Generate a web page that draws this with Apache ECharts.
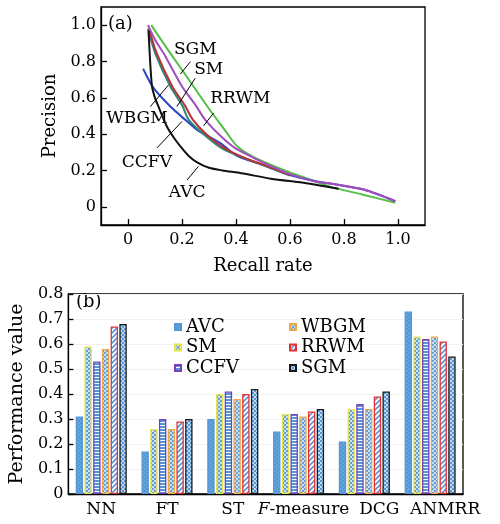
<!DOCTYPE html>
<html><head><meta charset="utf-8">
<script src="https://cdn.jsdelivr.net/npm/echarts@6/dist/echarts.min.js"></script>
<style>html,body{margin:0;padding:0;background:#fff}#c{width:500px;height:524px}</style>
</head><body><div id="c"></div>
<script>
const FONT = 'DejaVu Serif';

// ---------- Panel (a): precision-recall curves ----------
const sgmCurve = [[0.086,1.0],[0.15,0.86],[0.23,0.69],[0.3,0.54],[0.36,0.42],[0.40,0.34],[0.44,0.295],[0.5,0.25],[0.59,0.195],[0.675,0.15],[0.75,0.11],[0.87,0.067],[0.99,0.022]];
const rrwmCurve = [[0.074,1.0],[0.1,0.92],[0.132,0.845],[0.2,0.662],[0.25,0.56],[0.286,0.479],[0.35,0.38],[0.40,0.32],[0.465,0.27],[0.55,0.21],[0.6,0.18],[0.69,0.14],[0.75,0.128],[0.873,0.095],[0.99,0.031]];
const wbgmCurve = [[0.074,0.98],[0.101,0.845],[0.157,0.662],[0.2,0.56],[0.225,0.479],[0.28,0.40],[0.35,0.32],[0.428,0.27],[0.5,0.23],[0.6,0.172]];
const smCurve = [[0.078,0.98],[0.105,0.85],[0.165,0.66],[0.21,0.56],[0.24,0.48],[0.29,0.40],[0.36,0.32],[0.43,0.27],[0.5,0.232],[0.6,0.175]];
const ccfvCurve = [[0.056,0.76],[0.095,0.653],[0.157,0.552],[0.212,0.479],[0.256,0.424],[0.342,0.351],[0.404,0.28],[0.5,0.23],[0.6,0.175],[0.7,0.14],[0.75,0.128],[0.873,0.095],[0.99,0.031]];
const avcCurve = [[0.076,0.97],[0.082,0.80],[0.089,0.662],[0.1,0.6],[0.113,0.552],[0.144,0.442],[0.17,0.38],[0.194,0.333],[0.225,0.28],[0.256,0.245],[0.3,0.215],[0.35,0.2],[0.42,0.185],[0.53,0.155],[0.66,0.13],[0.78,0.10]];
const prTicks = [0, 0.2, 0.4, 0.6, 0.8, 1.0];

// annotation labels (data units) and their leader lines
const annoNames = ['SGM','SM','RRWM','WBGM','CCFV','AVC'];
const annoPos = [[0.249,0.863],[0.299,0.753],[0.416,0.598],[0.033,0.488],[0.07,0.241],[0.219,0.077]];
const annoLeader = [
  [[0.231,0.799],[0.194,0.731]],
  [[0.249,0.708],[0.181,0.552]],
  [[0.317,0.516],[0.28,0.446]],
  [[0.083,0.552],[0.15,0.671]],
  [[0.107,0.324],[0.2,0.47]],
  [[0.219,0.148],[0.261,0.223]]
];

// ---------- Panel (b): performance bars ----------
const metrics = ['NN','FT','ST','F-measure','DCG','ANMRR'];
const methods = ['AVC','SM','CCFV','WBGM','RRWM','SGM'];
const avcVals  = [0.31,0.17,0.30,0.25,0.21,0.73];
const smVals   = [0.59,0.26,0.40,0.32,0.34,0.63];
const ccfvVals = [0.53,0.30,0.41,0.32,0.36,0.62];
const wbgmVals = [0.58,0.26,0.38,0.31,0.34,0.63];
const rrwmVals = [0.67,0.29,0.40,0.33,0.39,0.61];
const sgmVals  = [0.68,0.30,0.42,0.34,0.41,0.55];

const BLUE = '#5597d6';
function pattern(size, draw){
  const c = document.createElement('canvas');
  c.width = size; c.height = size;
  const g = c.getContext('2d');
  draw(g, size);
  return { image: c, repeat: 'repeat' };
}
const fills = {
  AVC: pattern(4,(g)=>{g.fillStyle=BLUE;g.fillRect(0,0,4,4);g.fillStyle='#68a3dc';g.fillRect(0,0,2,2);g.fillRect(2,2,2,2);}),
  SM: pattern(4,(g)=>{g.fillStyle='#cfe2f5';g.fillRect(0,0,4,4);g.fillStyle='#5f9ed9';g.fillRect(0,0,2,2);g.fillRect(2,2,2,2);}),
  CCFV: pattern(3,(g)=>{g.fillStyle='#ffffff';g.fillRect(0,0,3,3);g.fillStyle='#5597d6';g.fillRect(0,0,3,2);}),
  WBGM: pattern(4,(g)=>{g.fillStyle='#c8def3';g.fillRect(0,0,4,4);g.fillStyle='#5f9ed9';g.fillRect(0,0,2,2);g.fillRect(2,2,2,2);g.fillStyle='#a2c6ea';g.fillRect(1,1,1,1);}),
  RRWM: pattern(5,(g)=>{g.fillStyle='#ffffff';g.fillRect(0,0,5,5);g.strokeStyle='#5597d6';g.lineWidth=1.6;g.beginPath();g.moveTo(-1,6);g.lineTo(6,-1);g.moveTo(-1,1);g.lineTo(1,-1);g.moveTo(4,6);g.lineTo(6,4);g.stroke();}),
  SGM: pattern(4,(g)=>{g.fillStyle='#c2daf2';g.fillRect(0,0,4,4);g.fillStyle='#5597d6';g.fillRect(0,0,2,2);g.fillRect(2,2,2,2);})
};
const borders = {AVC:'#5597d6', SM:'#e8e445', CCFV:'#7b3fb5', WBGM:'#f0a844', RRWM:'#e83030', SGM:'#1a1a1a'};
const barVals = {AVC:avcVals, SM:smVals, CCFV:ccfvVals, WBGM:wbgmVals, RRWM:rrwmVals, SGM:sgmVals};

const fmt = v => (Math.abs(v) < 1e-9 ? '0' : v.toFixed(1));
const labelPad = {'F-measure':[0,0,0,10], 'DCG':[0,0,0,30], 'ANMRR':[0,0,0,30]};

const chart = echarts.init(document.getElementById('c'), null, {renderer:'canvas'});

const lineSeries = [
  ['sgm-line', sgmCurve, '#52c044'],
  ['ccfv-line', ccfvCurve, '#2a46c2'],
  ['wbgm-line', wbgmCurve, '#2b877c'],
  ['sm-line', smCurve, '#b53434'],
  ['rrwm-line', rrwmCurve, '#a24cbf'],
  ['avc-line', avcCurve, '#111111']
].map(([n,d,c]) => ({
  name:n, type:'line', xAxisIndex:0, yAxisIndex:0, data:d, showSymbol:false, smooth:0.25,
  lineStyle:{color:c, width:2}, itemStyle:{color:c}, silent:true, animation:false, z:3
}));

const annoSeries = {
  name:'anno', type:'scatter', xAxisIndex:0, yAxisIndex:0, symbolSize:0, silent:true, animation:false,
  itemStyle:{opacity:1},
  data: annoNames.map((n,i)=>({name:n, value:annoPos[i]})),
  label:{show:true, position:'inside', formatter:'{b}', color:'#000', opacity:1, fontFamily:FONT, fontSize:17},
  markLine:{silent:true, symbol:['none','none'], animation:false, label:{show:false},
    lineStyle:{color:'#000', width:1, type:'solid', opacity:1},
    data: annoLeader.map(s=>[{coord:s[0]},{coord:s[1]}])}
};

const barSeries = methods.map(m => ({
  name:m, type:'bar', xAxisIndex:1, yAxisIndex:1, data:barVals[m],
  barWidth:7.4, barGap:'18%',
  itemStyle:{color:fills[m], borderColor:borders[m], borderWidth:1.3},
  animation:false
}));

const axLine = {show:true, onZero:false, lineStyle:{color:'#000', width:1.3}};

const option = {
  backgroundColor:'#fff',
  textStyle:{fontFamily:FONT},
  grid:[
    {left:101, top:7, width:324, height:218, show:true, borderColor:'#000', borderWidth:1.3, backgroundColor:'transparent'},
    {left:67, top:294, width:396, height:200, show:true, borderColor:'#000', borderWidth:1.3, backgroundColor:'transparent'}
  ],
  xAxis:[
    {type:'value', gridIndex:0, min:-0.1, max:1.1,
     name:'Recall rate', nameLocation:'middle', nameGap:32, nameTextStyle:{fontFamily:FONT, fontSize:18, color:'#000'},
     axisLine:axLine,
     axisTick:{show:true, inside:true, length:6, customValues:prTicks, lineStyle:{color:'#000', width:1.3}},
     axisLabel:{customValues:prTicks, formatter:fmt, fontFamily:FONT, fontSize:16, color:'#000', margin:7},
     splitLine:{show:false}},
    {type:'category', gridIndex:1, data: metrics.map(m => ({value:m, textStyle:{padding:labelPad[m]||0}})),
     axisLine:axLine,
     axisTick:{show:false},
     axisLabel:{interval:0, fontFamily:FONT, fontSize:17, color:'#000', margin:7,
       formatter: v => v === 'F-measure' ? '{i|F}-measure' : v,
       rich:{i:{fontStyle:'italic', fontFamily:FONT, fontSize:17, color:'#000'}}}}
  ],
  yAxis:[
    {type:'value', gridIndex:0, min:-0.1, max:1.1,
     name:'Precision', nameLocation:'middle', nameGap:36, nameTextStyle:{fontFamily:FONT, fontSize:18, color:'#000'},
     axisLine:axLine,
     axisTick:{show:true, inside:true, length:6, customValues:prTicks, lineStyle:{color:'#000', width:1.3}},
     axisLabel:{customValues:prTicks, formatter:fmt, fontFamily:FONT, fontSize:16, color:'#000', margin:5},
     splitLine:{show:false}},
    {type:'value', gridIndex:1, min:0, max:0.8, interval:0.1,
     name:'Performance value', nameLocation:'middle', nameGap:38, nameTextStyle:{fontFamily:FONT, fontSize:19, color:'#000'},
     axisLine:axLine,
     axisTick:{show:true, inside:true, length:5, lineStyle:{color:'#000', width:1.3}},
     axisLabel:{formatter:fmt, fontFamily:FONT, fontSize:16, color:'#000', margin:5},
     splitLine:{show:true, lineStyle:{color:'#f1f1f1', width:1}}}
  ],
  legend:[
    {data:['AVC','SM','CCFV'], orient:'vertical', left:169, top:313, icon:'rect', itemWidth:6, itemHeight:6, itemGap:2.5,
     textStyle:{fontFamily:FONT, fontSize:18, color:'#000', lineHeight:18}, selectedMode:false},
    {data:['WBGM','RRWM','SGM'], orient:'vertical', left:284, top:313, icon:'rect', itemWidth:6, itemHeight:6, itemGap:2.5,
     textStyle:{fontFamily:FONT, fontSize:18, color:'#000', lineHeight:18}, selectedMode:false}
  ],
  graphic:[
    {type:'text', left:108, top:15, style:{text:'(a)', fontFamily:FONT, fontSize:18, fill:'#000'}},
    {type:'text', left:76, top:293, style:{text:'(b)', fontFamily:FONT, fontSize:18, fill:'#000'}}
  ],
  series:[...lineSeries, annoSeries, ...barSeries]
};
chart.setOption(option);
</script>
</body></html>
